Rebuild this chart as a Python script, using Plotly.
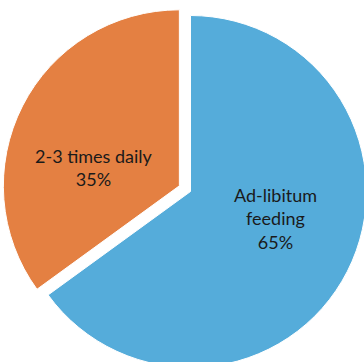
import plotly.graph_objects as go

# Feeding frequency shares
labels = ["Ad-libitum<br>feeding", "2-3 times daily"]
values = [65, 35]
colors = ["#55ACDA", "#E48042"]
pulls = [0, 0.071]

# Label anchor points (paper fractions) for each slice's text block
label_x = [0.7244, 0.2467]
label_y = [0.4308, 0.5627]

W, H = 381, 383

fig = go.Figure(
    go.Pie(
        labels=labels,
        values=values,
        sort=False,
        direction="clockwise",
        rotation=0,
        pull=pulls,
        marker=dict(colors=colors, line=dict(color="white", width=1)),
        textinfo="none",
        hoverinfo="label+percent",
        domain=dict(x=[2 / W, 379 / W], y=[3 / H, 380 / H]),
        showlegend=False,
    )
)

total = sum(values)
for lab, val, lx, ly in zip(labels, values, label_x, label_y):
    fig.add_annotation(
        x=lx,
        y=ly,
        xref="paper",
        yref="paper",
        text=f"{lab}<br>{val / total:.0%}",
        showarrow=False,
        xanchor="center",
        yanchor="middle",
        align="center",
        font=dict(family="Lato", size=18, color="#1a1a1a"),
    )

fig.update_layout(
    width=W,
    height=H,
    margin=dict(l=0, r=0, t=0, b=0),
    paper_bgcolor="white",
    plot_bgcolor="white",
)

fig.write_html(
    "out.html",
    post_script="document.documentElement.style.overflow='hidden';document.body.style.overflow='hidden';",
)
